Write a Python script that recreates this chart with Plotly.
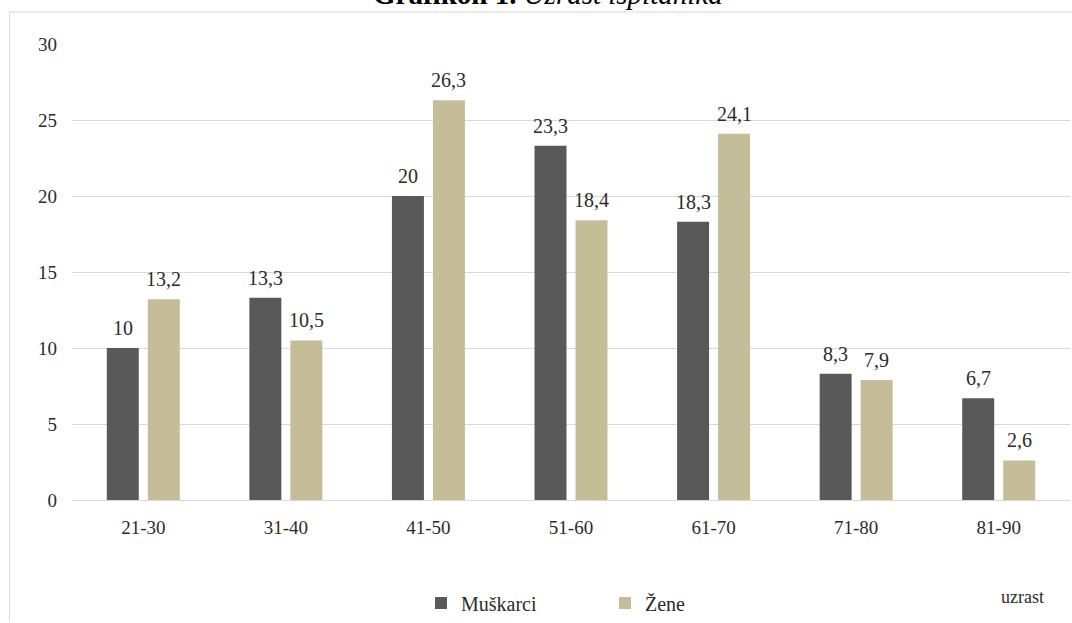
import plotly.graph_objects as go

# Age groups and shares (%) by sex
age_groups = ["21-30", "31-40", "41-50", "51-60", "61-70", "71-80", "81-90"]
muskarci = [10, 13.3, 20, 23.3, 18.3, 8.3, 6.7]
zene = [13.2, 10.5, 26.3, 18.4, 24.1, 7.9, 2.6]
y_ticks = [0, 5, 10, 15, 20, 25, 30]

W, H = 1072, 623
L, R, T, B = 72, 2, 44, 122
plot_w = W - L - R
plot_h = H - T - B
BARGAP = 0.425
GROUPGAP = 0.22

FONT = "Liberation Serif"
DARK = "#595959"
TAN = "#C4BD97"
TXT = "#2b2b2b"
GRID = "#d9d9d9"


def fmt(v):
    return f"{v:g}".replace(".", ",")


def px_x(p):
    return (p - L) / plot_w


def px_y(p):
    return (H - B - p) / plot_h


fig = go.Figure()
fig.add_trace(go.Bar(name="Muškarci", x=age_groups, y=muskarci,
                     marker=dict(color=DARK, line=dict(width=0))))
fig.add_trace(go.Bar(name="Žene", x=age_groups, y=zene,
                     marker=dict(color=TAN, line=dict(width=0))))

# value labels above each bar, offset to the centre of its slot
cat_w = plot_w / len(age_groups)
slot = cat_w * (1 - BARGAP) / 2
annotations = []
for series, sign in ((muskarci, -1), (zene, 1)):
    for cat, v in zip(age_groups, series):
        annotations.append(dict(
            x=cat, y=v, xref="x", yref="y", text=fmt(v), showarrow=False,
            xanchor="center", yanchor="bottom", xshift=sign * slot / 2, yshift=7,
            font=dict(family=FONT, size=20, color=TXT)))

# chart caption, partly above the page edge
annotations.append(dict(
    x=px_x(548), y=px_y(12), xref="paper", yref="paper",
    text="<b>Grafikon 1.</b> <i>Uzrast ispitanika</i>", showarrow=False,
    xanchor="center", yanchor="bottom",
    font=dict(family=FONT, size=29, color="#000000")))

# axis title
annotations.append(dict(
    x=px_x(1022), y=px_y(598), xref="paper", yref="paper", text="uzrast",
    showarrow=False, xanchor="center", yanchor="middle",
    font=dict(family=FONT, size=18, color=TXT)))

shapes = [
    dict(type="line", xref="paper", yref="paper",
         x0=px_x(9.5), x1=px_x(W), y0=px_y(12), y1=px_y(12),
         line=dict(color=GRID, width=1)),
    dict(type="line", xref="paper", yref="paper",
         x0=px_x(9.5), x1=px_x(9.5), y0=px_y(12), y1=px_y(H),
         line=dict(color=GRID, width=1)),
]

fig.update_layout(
    width=W, height=H,
    margin=dict(l=L, r=R, t=T, b=B),
    paper_bgcolor="white", plot_bgcolor="white",
    barmode="group", bargap=BARGAP, bargroupgap=GROUPGAP,
    font=dict(family=FONT, size=19, color=TXT),
    showlegend=True,
    legend=dict(orientation="h", x=px_x(421), y=px_y(603),
                xanchor="left", yanchor="middle",
                entrywidth=139, entrywidthmode="pixels",
                font=dict(family=FONT, size=20, color=TXT),
                bgcolor="rgba(0,0,0,0)"),
    annotations=annotations,
    shapes=shapes,
)
fig.update_xaxes(showgrid=False, showline=False, ticks="", zeroline=False,
                 ticklabelstandoff=14,
                 tickfont=dict(family=FONT, size=19, color=TXT))
fig.update_yaxes(range=[0, 30], tickvals=y_ticks, showgrid=True,
                 gridcolor=GRID, gridwidth=1, zeroline=True, zerolinecolor=GRID,
                 zerolinewidth=1, showline=False, ticks="",
                 ticklabelstandoff=14,
                 tickfont=dict(family=FONT, size=19, color=TXT))

fig.write_html("out.html")
